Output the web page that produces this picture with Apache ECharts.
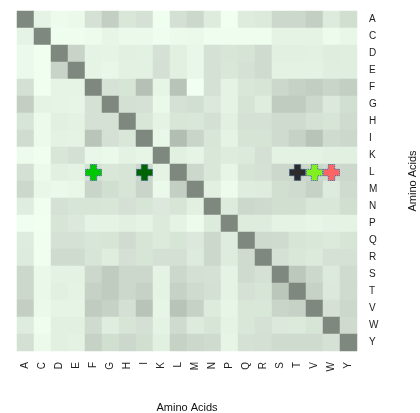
<!DOCTYPE html>
<html>
<head>
<meta charset="utf-8">
<script src="https://cdn.jsdelivr.net/npm/echarts@6/dist/echarts.min.js"></script>
<style>
html, body { margin: 0; padding: 0; background: #fff; }
#chart { width: 420px; height: 413px; }
</style>
</head>
<body>
<div id="chart"></div>
<script>
var aminoAcids = ["A","C","D","E","F","G","H","I","K","L","M","N","P","Q","R","S","T","V","W","Y"];

// shade level per cell, 0 = lightest, 10 = diagonal; -1 = blank (white)
var rowA = [10,1,0.3,0.5,2.5,4,2,2.5,0.1,2.6, 3.3,1.6,0,1.6,1.8,3.3,3.3,4,1.7,2.7];
var rowC = [1,10,0.2,0.2,0.3,0.8,0.5,0.5,0.2,0.4, 0.5,0.2,0.2,0.2,0.2,1,1,1,0.3,0.7];
var rowD = [0.5,0.1,10,3.6,1,0.9,1.3,1.2,2.5,1.3, 0.7,2.5,2.1,2.3,3,1.3,1.3,1.2,1.5,1.4];
var rowE = [0.5,0.1,3.6,10,0.9,0.7,1.2,1.2,2.6,1.3, 0.7,2.5,2,2.5,3,1.1,1.1,1.1,1.4,1.4];
var rowF = [2.6,0.1,0.9,0.9,10,2.4,2.2,5.2,0.8,5, -1,2.5,1,2,2.2,3.3,3.8,4.1,3.5,4];
var rowG = [4,1,0.9,0.8,2.5,10,2.6,2.5,0.5,2.5, 2.7,1.9,1,2.3,1.5,4.3,4.3,3.3,1.9,2.7];
var rowH = [2.2,0.4,1.3,1.1,2.5,2.5,10,2.1,1,2.1, 2,2.6,1.3,2.5,2.5,3,3,2.5,2.2,3];
var rowI = [2.9,0.4,1.1,1,4.9,2.6,2,10,0.7,5.5, 3.5,2.1,1,2.3,2.3,3,3.8,5,3,3.3];
var rowK = [0.3,0.1,2.1,2.6,0.7,0.5,1.1,0.8,10,1.3, 0.9,2,1.6,1.8,2.6,1.1,1.1,1.1,1.3,1.3];
var rowL = [2.6,0.4,1.3,1.1,2.5,2,2.2,3.3,1,10, 3.3,2,0.8,2.3,2.5,3.3,3.3,3.3,3,3.3];
var rowM = [3.3,0.7,0.5,0.7,3.5,2.7,2.2,3.5,0.5,4, 10,1.3,0.3,1.5,1.6,2.7,3,3.8,1.7,3];
var rowN = [1.5,0.1,2.5,2.2,2.2,2.1,2.6,2.2,1.9,2.2, 1.3,10,1.7,3.3,3.1,2.7,2.7,2,2,2.7];
var rowP = [0.1,0,2.2,1.9,1,1,1.3,1,1.8,1, 0.3,1.7,10,1.6,1.6,1,1,0.8,1,1];
var rowQ = [1.6,0.1,2.5,2.5,2.1,2.2,2.9,2.2,1.8,2.2, 1.9,3.3,1.6,10,3.1,3,2.2,2,1.8,2.2];
var rowR = [1.7,0.1,3,3,2.2,1.5,2.6,2.2,2.6,2.6, 1.7,3.3,1.6,3,10,2.5,2,1.8,2.5,2.5];
var rowS = [3.3,0.6,1.1,1.1,3.3,4.3,3.3,3.3,1,3.3, 2.6,2.5,1,3,2.5,10,4.6,3.3,1.8,3];
var rowT = [3.3,0.6,1.3,1,3.8,4.3,3.3,3.8,1,3.8, 3,2.6,1,2.5,2.2,4.7,10,3.8,1.9,3];
var rowV = [4,0.5,0.9,0.9,4.3,3.8,2.6,5,0.8,5, 3.8,1.7,0.8,2,2,3.5,3.8,10,2.5,3.3];
var rowW = [1.6,0.2,1.3,1.3,3,1.5,2.2,2.6,1,3, 1.7,2.2,1,2,2.5,1.9,1.8,2.2,10,3];
var rowY = [2.6,0.4,1.3,1.1,3.8,2.7,3.3,2.7,1.3,3.8, 3.3,3,0.8,2.5,2.6,3,3,3,2.5,10];

var matrix = [rowA,rowC,rowD,rowE,rowF,rowG,rowH,rowI,rowK,rowL,
              rowM,rowN,rowP,rowQ,rowR,rowS,rowT,rowV,rowW,rowY];

// highlighted cells: [column, row, colour]
var markCols = ["F","I","T","V","W"];
var markRows = ["L","L","L","L","L"];
var markColors = ["#00c800","#006400","#2b2b2b","#80f020","#ff6464"];

var heatData = [];
for (var r = 0; r < matrix.length; r++) {
    for (var c = 0; c < matrix[r].length; c++) {
        heatData.push([c, r, matrix[r][c]]);
    }
}

var markData = [];
for (var i = 0; i < markCols.length; i++) {
    markData.push({
        value: [markCols[i], markRows[i]],
        itemStyle: { color: markColors[i] }
    });
}

var labelFont = { fontFamily: "Liberation Sans", fontSize: 10, color: "#222" };

var chart = echarts.init(document.getElementById("chart"));
chart.setOption({
    animation: false,
    backgroundColor: "#fff",
    grid: { left: 17, top: 11, width: 340, height: 340, outerBoundsMode: "none", containLabel: false },
    xAxis: {
        type: "category",
        data: aminoAcids,
        position: "bottom",
        axisLine: { show: false },
        axisTick: { show: false },
        splitLine: { show: false },
        axisLabel: Object.assign({ rotate: 90, margin: 11, interval: 0 }, labelFont),
        name: "Amino Acids",
        nameLocation: "middle",
        nameGap: 51,
        nameTextStyle: { fontFamily: "Liberation Sans", fontSize: 11, color: "#111" }
    },
    yAxis: {
        type: "category",
        data: aminoAcids,
        inverse: true,
        position: "right",
        axisLine: { show: false },
        axisTick: { show: false },
        splitLine: { show: false },
        axisLabel: Object.assign({ margin: 12, interval: 0, align: "left" }, labelFont),
        name: "Amino Acids",
        nameLocation: "middle",
        nameRotate: 90,
        nameGap: 50,
        nameTextStyle: { fontFamily: "Liberation Sans", fontSize: 11, color: "#111" }
    },
    visualMap: {
        show: false,
        seriesIndex: 0,
        min: 0,
        max: 10,
        inRange: { color: ["#f0fff0", "#7f887f"] },
        outOfRange: { color: "#ffffff" }
    },
    series: [
        {
            type: "heatmap",
            data: heatData,
            itemStyle: { borderWidth: 0 }
        },
        {
            type: "scatter",
            data: markData,
            symbol: "path://M3,0H7V3H10V7H7V10H3V7H0V3H3Z",
            symbolSize: 16,
            itemStyle: { opacity: 1, borderColor: "#3a5a9a", borderWidth: 1, borderType: "dotted" },
            z: 5
        }
    ]
});
</script>
</body>
</html>
